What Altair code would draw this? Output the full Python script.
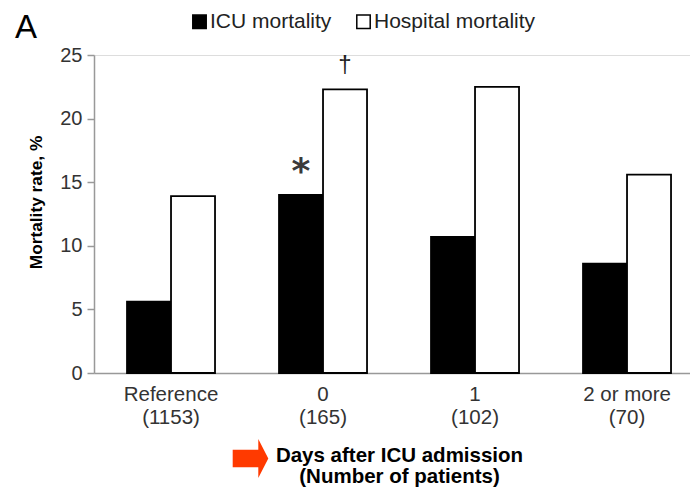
import altair as alt
import pandas as pd

# ---- data ----
groups = ["Reference", "0", "1", "2 or more"]
patients = ["1153", "165", "102", "70"]
series = ["ICU mortality", "Hospital mortality"]
icu = [5.6, 14.0, 10.7, 8.6]
hospital = [13.9, 22.3, 22.5, 15.6]
icu_marks = ["", "*", "", ""]
hosp_marks = ["", "\u2020", "", ""]
panel_label = ["A"]
x_title = ["Days after ICU admission", "(Number of patients)"]
y_title = "Mortality rate, %"

labels = [f"{g}\n({n})" for g, n in zip(groups, patients)]
rows = []
for i, lab in enumerate(labels):
    rows.append({"label": lab, "series": series[0], "value": icu[i], "mark": icu_marks[i]})
    rows.append({"label": lab, "series": series[1], "value": hospital[i], "mark": hosp_marks[i]})
df = pd.DataFrame(rows)

FONT = "Liberation Sans"

x_enc = alt.X(
    "label:N",
    sort=labels,
    scale=alt.Scale(paddingInner=0.421, paddingOuter=0.171, align=0.635),
    axis=alt.Axis(
        labelExpr="split(datum.label, '\\n')",
        labelAngle=0,
        labelFontSize=20.5,
        labelFont=FONT,
        labelColor="#333333",
        labelLineHeight=23.5,
        labelPadding=11,
        ticks=False,
        domainColor="#999999",
        domainWidth=1.5,
        title=x_title,
        titleFont=FONT,
        titleFontSize=20.5,
        titleFontWeight="bold",
        titleColor="black",
        titleLineHeight=21,
        titleX=305,
        titleY=88,
        titleBaseline="alphabetic",
    ),
)
xo_enc = alt.XOffset("series:N", sort=series, scale=alt.Scale(paddingInner=0, paddingOuter=0))
y_enc = alt.Y(
    "value:Q",
    scale=alt.Scale(domain=[0, 25], nice=False),
    axis=alt.Axis(
        values=[0, 5, 10, 15, 20, 25],
        grid=False,
        tickSize=7,
        tickWidth=1.5,
        tickColor="#999999",
        domainColor="#999999",
        domainWidth=1.5,
        labelFontSize=20,
        labelFont=FONT,
        labelColor="#333333",
        labelPadding=5,
        title=y_title,
        titleFont=FONT,
        titleFontSize=17.3,
        titleFontWeight="bold",
        titleColor="black",
        titleAngle=270,
        titleX=-53,
        titleY=147,
        titleAlign="center",
        titleBaseline="alphabetic",
    ),
)

bars = alt.Chart(df).mark_bar(stroke="black", strokeWidth=1.8).encode(
    x=x_enc,
    xOffset=xo_enc,
    y=y_enc,
    color=alt.Color(
        "series:N",
        sort=series,
        scale=alt.Scale(domain=series, range=["black", "white"]),
        legend=alt.Legend(
            title=None,
            orient="none",
            direction="horizontal",
            legendX=95,
            legendY=-44,
            symbolType="square",
            symbolSize=180,
            symbolStrokeColor="black",
            symbolStrokeWidth=1.5,
            labelFont=FONT,
            labelFontSize=21,
            labelColor="#222222",
            labelLimit=400,
            labelOffset=0,
            columnPadding=21,
            padding=0,
        ),
    ),
)

star = alt.Chart(df).transform_filter(alt.datum.series == series[0]).mark_text(
    font="DejaVu Sans", fontSize=36, fontWeight="bold", color="#3a3a3a", baseline="alphabetic", dy=-12
).encode(x=alt.X("label:N", sort=labels), xOffset=alt.XOffset("series:N", sort=series), y="value:Q", text="mark:N")

dagger = alt.Chart(df).transform_filter(alt.datum.series == series[1]).mark_text(
    font=FONT, fontSize=24, color="#222222", baseline="alphabetic", dy=-17
).encode(x=alt.X("label:N", sort=labels), xOffset=alt.XOffset("series:N", sort=series), y="value:Q", text="mark:N")

panel = alt.Chart(pd.DataFrame({"t": panel_label})).mark_text(
    font=FONT, fontSize=33, color="black", align="left", baseline="alphabetic"
).encode(text="t:N", x=alt.value(-79), y=alt.value(-17))

arrow_path = "M -0.913 -0.45 L 0.4 -0.45 L 0.4 -1 L 0.913 0 L 0.4 1 L 0.4 0.45 L -0.913 0.45 Z"
arrow = alt.Chart(pd.DataFrame({"k": [0]})).mark_point(
    shape=arrow_path, size=1521, filled=True, color="#FF3A00", opacity=1, strokeWidth=0
).encode(x=alt.value(156.5), y=alt.value(403.5))

chart = alt.layer(bars, star, dagger, panel, arrow).properties(
    width=596,
    height=318,
    autosize=alt.AutoSizeParams(type="none"),
    padding={"left": 86, "top": 47, "right": 0, "bottom": 114},
).configure_view(stroke=None).configure(background="white")

chart.save("out.html", embed_options={"renderer": "svg", "actions": False})
